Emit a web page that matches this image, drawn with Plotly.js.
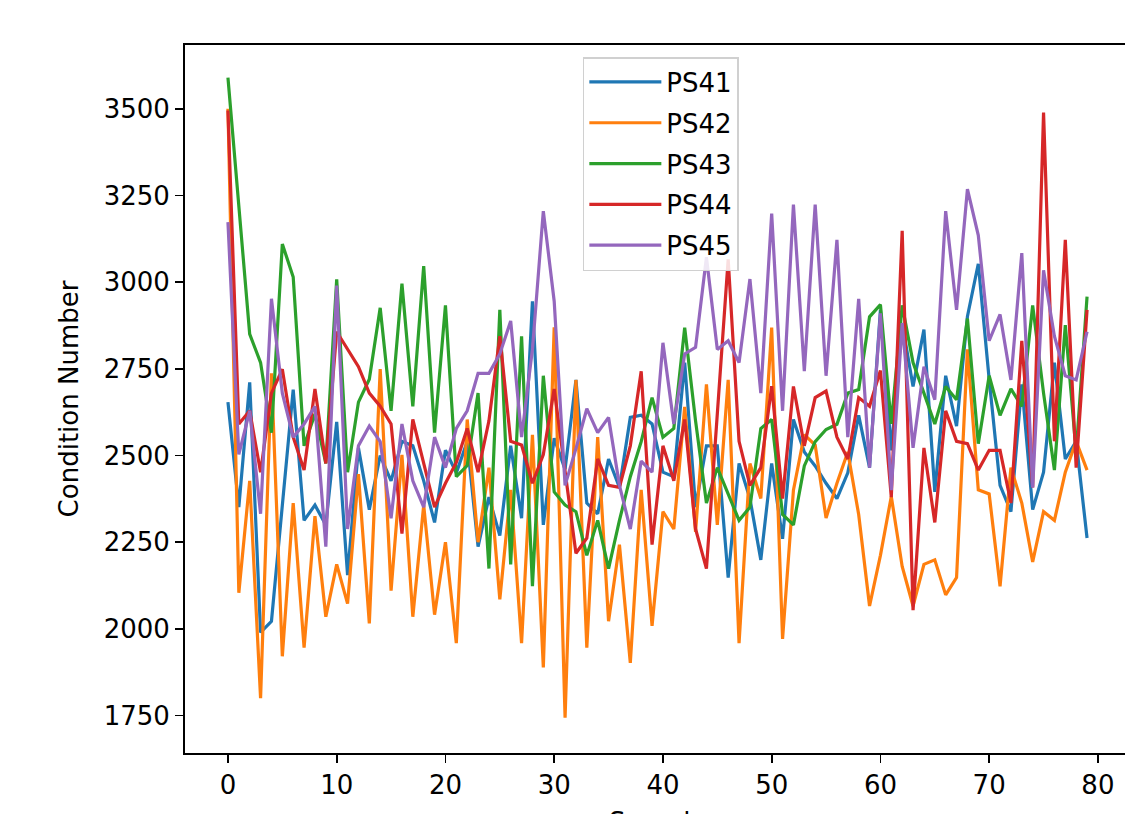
<!DOCTYPE html>
<html>
<head>
<meta charset="utf-8">
<script src="https://cdn.plot.ly/plotly-3.0.1.min.js"></script>
<style>
html,body{margin:0;padding:0;overflow:hidden;background:#fff;}
#chart{width:1132px;height:814px;}
</style>
</head>
<body>
<div id="chart"></div>
<script>
const seriesNames = ["PS41", "PS42", "PS43", "PS44", "PS45"];
const seriesColors = ["#1f77b4", "#ff7f0e", "#2ca02c", "#d62728", "#9467bd"];

const ps41 = [2654,2351,2711,1990,2022,2360,2690,2313,2357,2300,
  2597,2155,2522,2344,2500,2427,2541,2528,2427,2307,
  2515,2450,2540,2237,2380,2269,2528,2319,2945,2300,
  2550,2460,2718,2363,2332,2490,2408,2610,2616,2591,
  2452,2439,2768,2351,2528,2528,2148,2477,2376,2199,
  2477,2260,2604,2510,2470,2420,2376,2450,2616,2465,
  2920,2515,2882,2699,2863,2395,2730,2585,2901,3053,
  2720,2414,2338,2705,2344,2452,2768,2490,2541,2262];

const ps42 = [3500,2104,2427,1800,2737,1921,2363,1946,2325,2035,
  2186,2073,2446,2016,2749,2110,2502,2035,2357,2041,
  2250,1959,2604,2250,2465,2085,2401,1959,2560,1889,
  2870,1744,2718,1946,2553,2022,2243,1902,2401,2009,
  2338,2288,2640,2280,2705,2300,2718,1959,2477,2376,
  2869,1971,2400,2560,2530,2320,2420,2510,2330,2066,
  2212,2382,2180,2066,2186,2199,2098,2148,2806,2401,
  2389,2123,2465,2363,2193,2338,2313,2452,2541,2458];

const ps43 = [3590,3220,2850,2768,2566,3110,3015,2528,2620,2477,
  3008,2452,2654,2720,2926,2629,2996,2642,3046,2566,
  2933,2439,2471,2680,2174,2920,2186,2844,2123,2730,
  2395,2357,2338,2212,2313,2174,2313,2439,2540,2667,
  2553,2578,2869,2600,2363,2465,2389,2313,2351,2578,
  2604,2330,2300,2470,2540,2575,2590,2680,2690,2900,
  2935,2591,2933,2768,2680,2591,2699,2661,2895,2534,
  2730,2616,2692,2642,2933,2680,2458,2876,2509,2958];

const ps44 = [3495,2591,2629,2452,2680,2749,2553,2458,2692,2477,
  2857,2806,2756,2680,2642,2591,2275,2604,2477,2351,
  2420,2480,2578,2452,2600,2844,2541,2530,2420,2503,
  2692,2452,2218,2262,2490,2414,2408,2528,2743,2243,
  2528,2427,2604,2288,2174,2620,3066,2541,2414,2465,
  2700,2376,2699,2528,2667,2686,2553,2490,2667,2642,
  2745,2380,3148,2054,2522,2307,2629,2541,2534,2458,
  2515,2515,2363,2831,2408,3489,2541,3122,2465,2920];

const ps45 = [3173,2503,2629,2332,2952,2680,2553,2591,2642,2237,
  2990,2288,2528,2585,2540,2319,2591,2427,2351,2553,
  2465,2578,2629,2737,2737,2793,2888,2553,2806,3205,
  2945,2414,2520,2635,2566,2610,2414,2288,2484,2452,
  2825,2591,2793,2812,3072,2806,2831,2768,3009,2680,
  3198,2629,3224,2743,3224,2730,3122,2553,2952,2465,
  2910,2400,2882,2522,2756,2661,3205,2920,3268,3135,
  2831,2907,2718,3084,2408,3034,2844,2730,2718,2857];

const seriesValues = [ps41, ps42, ps43, ps44, ps45];
const xTickVals = [0,10,20,30,40,50,60,70,80];
const yTickVals = [1750, 2000, 2250, 2500, 2750, 3000, 3250, 3500];
const xLabel = "Sample";
const yLabel = "Condition Number";

const font = "DejaVu Sans, Liberation Sans, sans-serif";
const fs = 26;

const traces = seriesValues.map((vals, k) => ({
  type: "scatter",
  mode: "lines",
  name: seriesNames[k],
  legendgroup: seriesNames[k],
  x: vals.map((_, i) => i),
  y: vals,
  line: {color: seriesColors[k], width: 3.2}
}));

const layout = {
  width: 1132,
  height: 814,
  margin: {l: 185, r: 2, t: 45, b: 61},
  paper_bgcolor: "#ffffff",
  plot_bgcolor: "#ffffff",
  font: {family: font, size: fs, color: "#000"},
  showlegend: true,
  legend: {
    x: 0.421, y: 0.983, xanchor: "left", yanchor: "top",
    bgcolor: "rgba(255,255,255,0.85)",
    bordercolor: "#d0d0d0", borderwidth: 1.5,
    font: {family: font, size: fs, color: "#000"},
    traceorder: "grouped",
    tracegroupgap: 4,
    itemwidth: 72
  },
  xaxis: {
    range: [-3.95, 82.95],
    tickmode: "array",
    tickvals: xTickVals,
    ticks: "outside", ticklen: 8, tickwidth: 1.8, tickcolor: "#000",
    showline: true, linecolor: "#000", linewidth: 2, mirror: true,
    showgrid: false, zeroline: false,
    tickfont: {family: font, size: fs, color: "#000"},
    automargin: false
  },
  yaxis: {
    range: [1642, 3684],
    tickmode: "array",
    tickvals: yTickVals,
    ticks: "outside", ticklen: 8, tickwidth: 1.8, tickcolor: "#000",
    showline: true, linecolor: "#000", linewidth: 2, mirror: true,
    showgrid: false, zeroline: false,
    tickfont: {family: font, size: fs, color: "#000"},
    title: {text: yLabel, font: {family: font, size: fs, color: "#000"}, standoff: 18},
    automargin: false
  },
  annotations: [{
    text: xLabel, xref: "paper", yref: "paper",
    x: 0.5, y: -0.074, xanchor: "center", yanchor: "top",
    showarrow: false, font: {family: font, size: fs, color: "#000"}
  }]
};

Plotly.newPlot("chart", traces, layout, {displayModeBar: false, staticPlot: true});
</script>
</body>
</html>
